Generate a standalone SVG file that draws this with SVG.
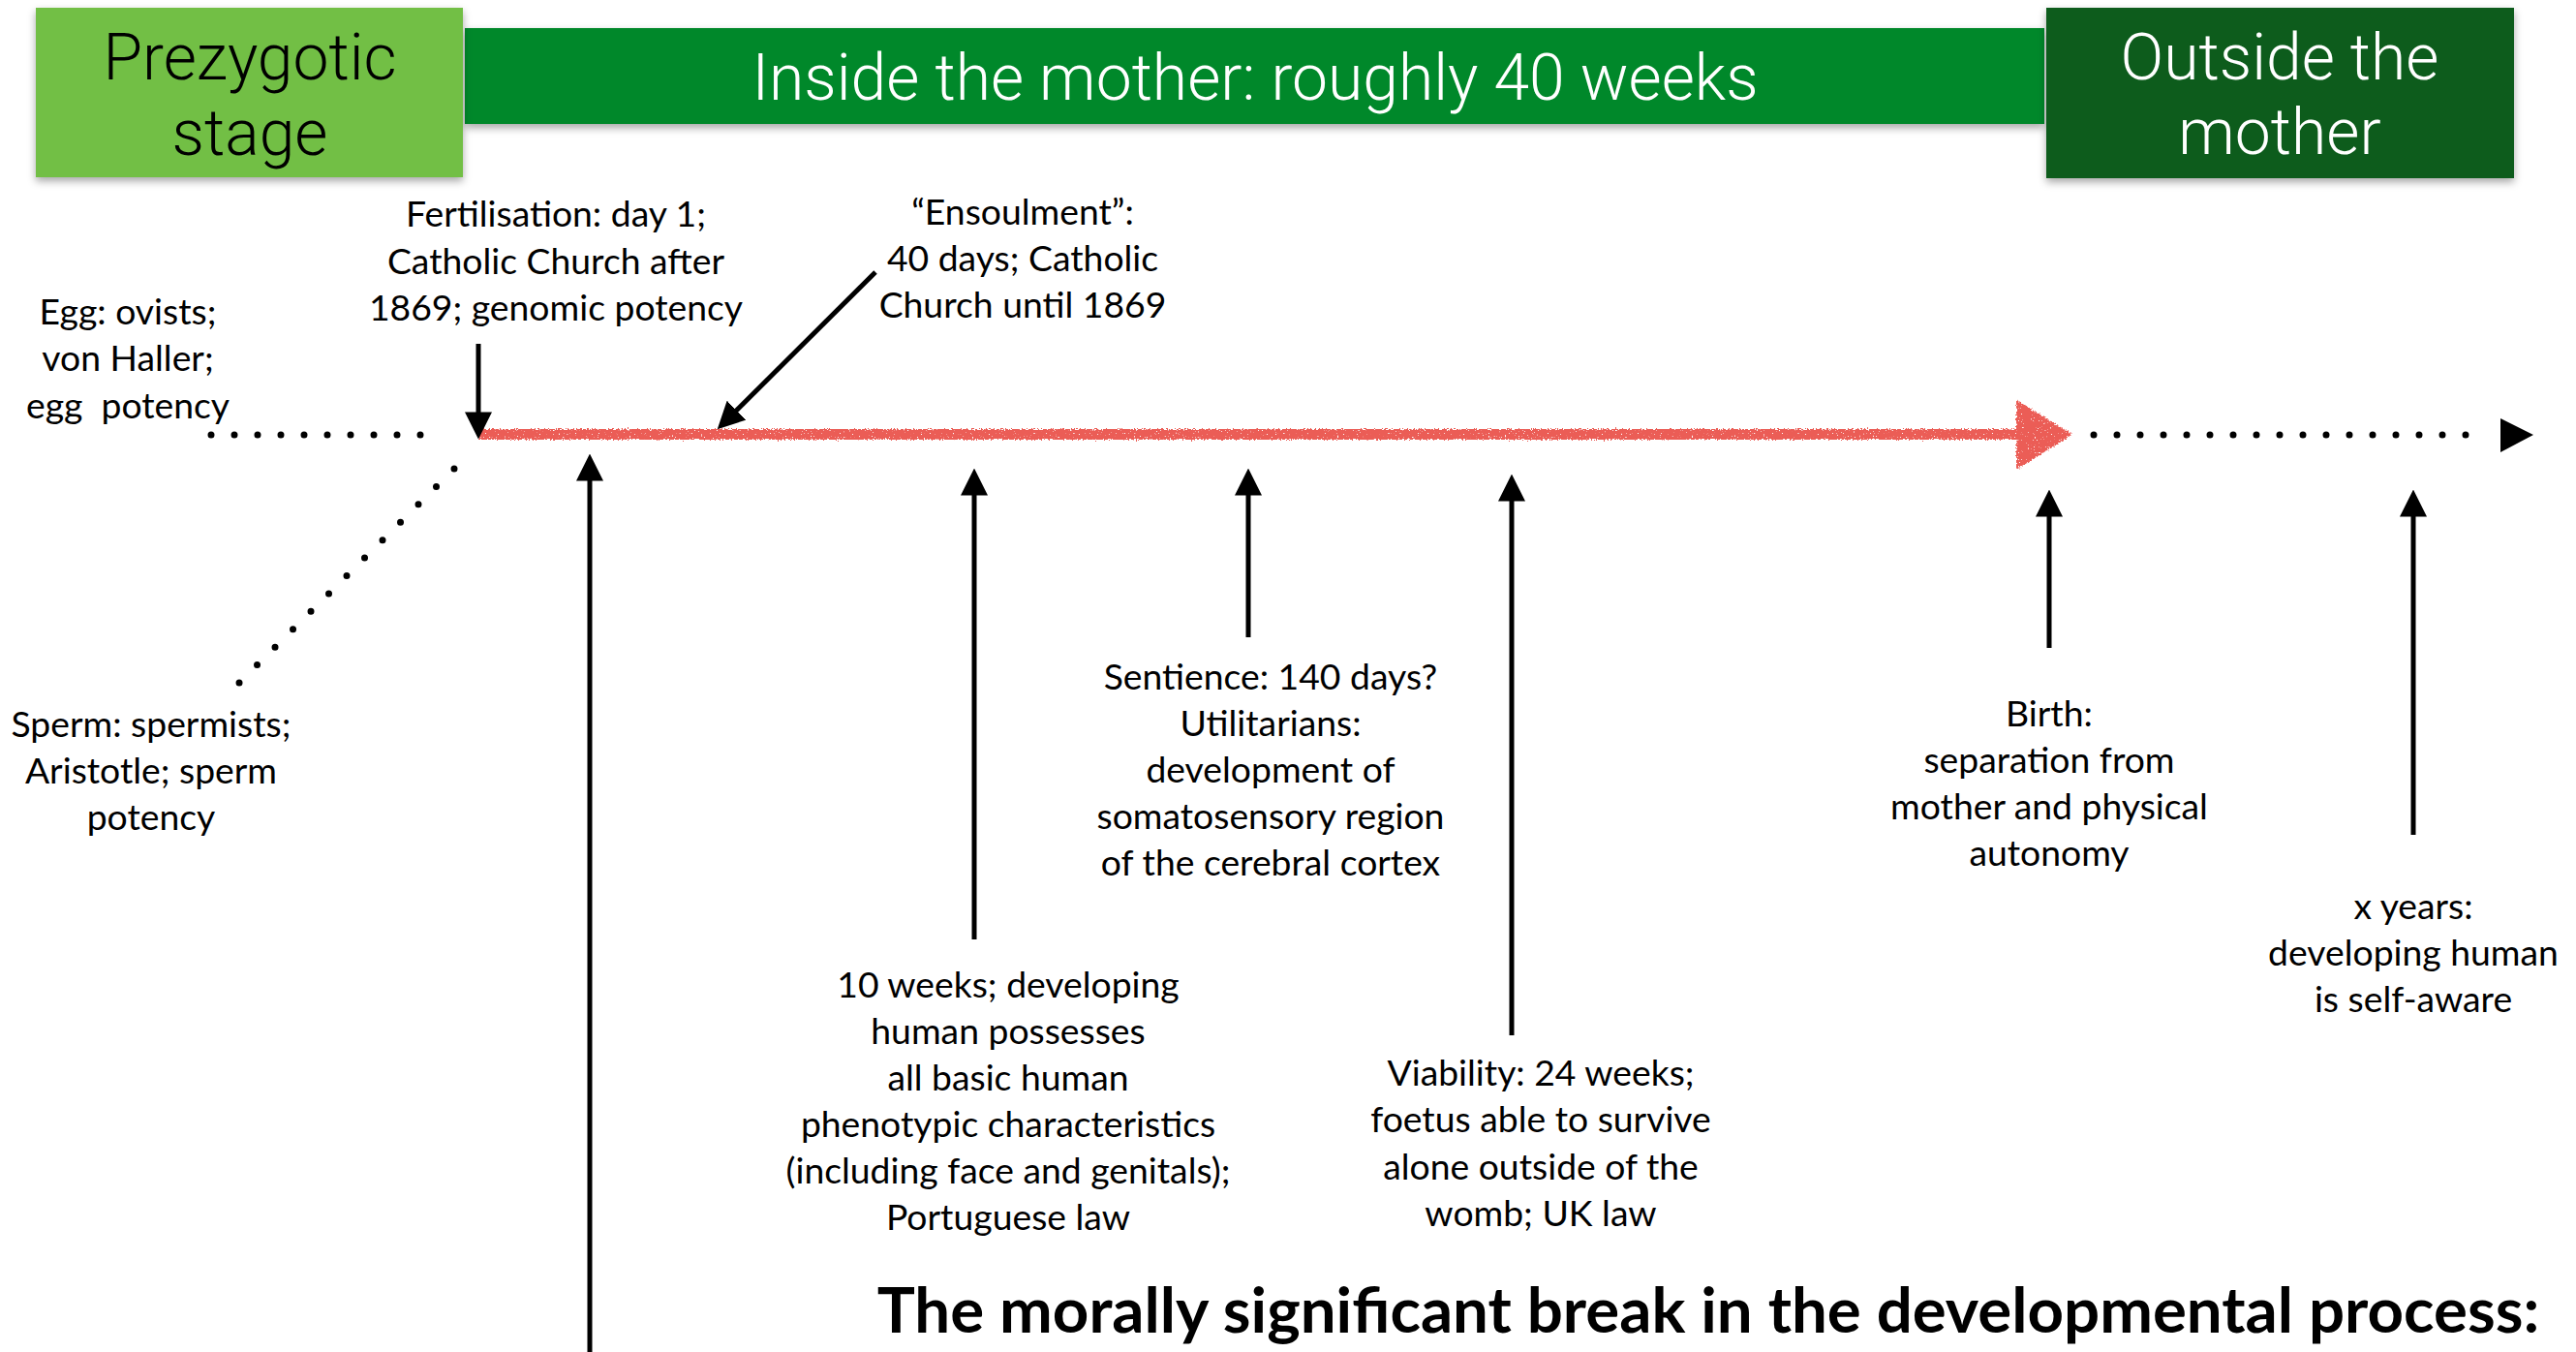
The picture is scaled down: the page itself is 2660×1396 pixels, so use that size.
<svg xmlns="http://www.w3.org/2000/svg" width="2660" height="1396" viewBox="0 0 2660 1396">
<defs>
<style>
.hdr{font-family:Roboto,"Liberation Sans",sans-serif;font-weight:300;font-size:66px;text-anchor:middle}
.lbl{font-family:Lato,"Liberation Sans",sans-serif;font-size:37.3px;fill:#000;text-anchor:middle}
.title{font-family:Lato,"Liberation Sans",sans-serif;font-weight:700;font-size:65.4px;fill:#000;text-anchor:middle}
.arr{stroke:#000;stroke-width:5;fill:none;marker-end:url(#ah)}
.dots{stroke:#000;stroke-width:7;stroke-linecap:round;fill:none}
</style>
<marker id="ah" markerUnits="userSpaceOnUse" markerWidth="28" markerHeight="28" refX="20" refY="13" orient="auto" viewBox="0 0 26 26">
<path d="M0,0 L26,13 L0,26 z" fill="#000"/>
</marker>
<filter id="shadow" x="-10%" y="-20%" width="120%" height="150%">
<feDropShadow dx="0" dy="4" stdDeviation="4" flood-color="#000" flood-opacity="0.35"/>
</filter>
<filter id="rough" x="-5%" y="-50%" width="110%" height="200%">
<feTurbulence type="fractalNoise" baseFrequency="0.6" numOctaves="2" seed="3" result="n"/>
<feDisplacementMap in="SourceGraphic" in2="n" scale="5" xChannelSelector="R" yChannelSelector="G" result="d"/>
<feTurbulence type="fractalNoise" baseFrequency="0.7" numOctaves="1" seed="11" result="n2"/>
<feColorMatrix in="n2" type="matrix" values="0 0 0 0 0  0 0 0 0 0  0 0 0 0 0  0 0 0 -12 9" result="mask"/>
<feComposite in="d" in2="mask" operator="in"/>
</filter>
</defs>
<rect width="2660" height="1396" fill="#fff"/>

<g id="stage-inside">
<rect x="480" y="29" width="1631" height="99" fill="#03882C" filter="url(#shadow)"/>
<text class="hdr" x="1296" y="103" fill="#fff">Inside the mother: roughly 40 weeks</text>
</g>
<g id="stage-prezygotic">
<rect x="37" y="8" width="441" height="175" fill="#72BF44" filter="url(#shadow)"/>
<text class="hdr" x="258" y="82" fill="#000">Prezygotic</text>
<text class="hdr" x="258" y="160" fill="#000">stage</text>
</g>
<g id="stage-outside">
<rect x="2113" y="8" width="483" height="176" fill="#0F5C1B" filter="url(#shadow)"/>
<text class="hdr" x="2354" y="82" fill="#fff">Outside the</text>
<text class="hdr" x="2354" y="159" fill="#fff">mother</text>
</g>

<g id="timeline">
<g filter="url(#rough)" fill="#EB5D56">
<rect x="495" y="443" width="1592" height="11"/>
<polygon points="2082,413 2140,448.5 2082,485"/>
</g>
<polygon points="2582,432 2616,449 2582,467" fill="#000"/>
</g>

<g id="connectors">
<path class="dots" d="M218,449 L458,449" stroke-dasharray="0 24"/>
<path class="dots" d="M2162,449 L2570,449" stroke-dasharray="0 24"/>
<path class="dots" d="M469,484 L247,705" stroke-dasharray="0 26.1"/>
<line class="arr" x1="494" y1="355" x2="494" y2="447"/>
<line class="arr" x1="904" y1="281" x2="745.3" y2="438.8"/>
<line class="arr" x1="609" y1="1396" x2="609" y2="475"/>
<line class="arr" x1="1006" y1="970" x2="1006" y2="490"/>
<line class="arr" x1="1289" y1="658" x2="1289" y2="490"/>
<line class="arr" x1="1561" y1="1069" x2="1561" y2="496"/>
<line class="arr" x1="2116" y1="669" x2="2116" y2="512"/>
<line class="arr" x1="2492" y1="862" x2="2492" y2="512"/>
</g>

<g id="egg">
<text class="lbl" x="132" y="335">Egg: ovists;</text>
<text class="lbl" x="132" y="383">von Haller;</text>
<text class="lbl" x="132" y="432" xml:space="preserve">egg  potency</text>
</g>
<g id="fertilisation">
<text class="lbl" x="574" y="234">Fertilisation: day 1;</text>
<text class="lbl" x="574" y="283">Catholic Church after</text>
<text class="lbl" x="574" y="331">1869; genomic potency</text>
</g>
<g id="ensoulment">
<text class="lbl" x="1056" y="232">“Ensoulment”:</text>
<text class="lbl" x="1056" y="280">40 days; Catholic</text>
<text class="lbl" x="1056" y="328">Church until 1869</text>
</g>
<g id="sperm">
<text class="lbl" x="156" y="761">Sperm: spermists;</text>
<text class="lbl" x="156" y="809">Aristotle; sperm</text>
<text class="lbl" x="156" y="857">potency</text>
</g>
<g id="sentience">
<text class="lbl" x="1312" y="712">Sentience: 140 days?</text>
<text class="lbl" x="1312" y="760">Utilitarians:</text>
<text class="lbl" x="1312" y="808">development of</text>
<text class="lbl" x="1312" y="856">somatosensory region</text>
<text class="lbl" x="1312" y="904">of the cerebral cortex</text>
</g>
<g id="ten-weeks">
<text class="lbl" x="1041" y="1030">10 weeks; developing</text>
<text class="lbl" x="1041" y="1078">human possesses</text>
<text class="lbl" x="1041" y="1126">all basic human</text>
<text class="lbl" x="1041" y="1174">phenotypic characteristics</text>
<text class="lbl" x="1041" y="1222">(including face and genitals);</text>
<text class="lbl" x="1041" y="1270">Portuguese law</text>
</g>
<g id="viability">
<text class="lbl" x="1591" y="1121">Viability: 24 weeks;</text>
<text class="lbl" x="1591" y="1169">foetus able to survive</text>
<text class="lbl" x="1591" y="1218">alone outside of the</text>
<text class="lbl" x="1591" y="1266">womb; UK law</text>
</g>
<g id="birth">
<text class="lbl" x="2116" y="750">Birth:</text>
<text class="lbl" x="2116" y="798">separation from</text>
<text class="lbl" x="2116" y="846">mother and physical</text>
<text class="lbl" x="2116" y="894">autonomy</text>
</g>
<g id="x-years">
<text class="lbl" x="2492" y="949">x years:</text>
<text class="lbl" x="2492" y="997">developing human</text>
<text class="lbl" x="2492" y="1045">is self-aware</text>
</g>
<g id="title">
<text class="title" x="1764" y="1376">The morally significant break in the developmental process:</text>
</g>
</svg>
